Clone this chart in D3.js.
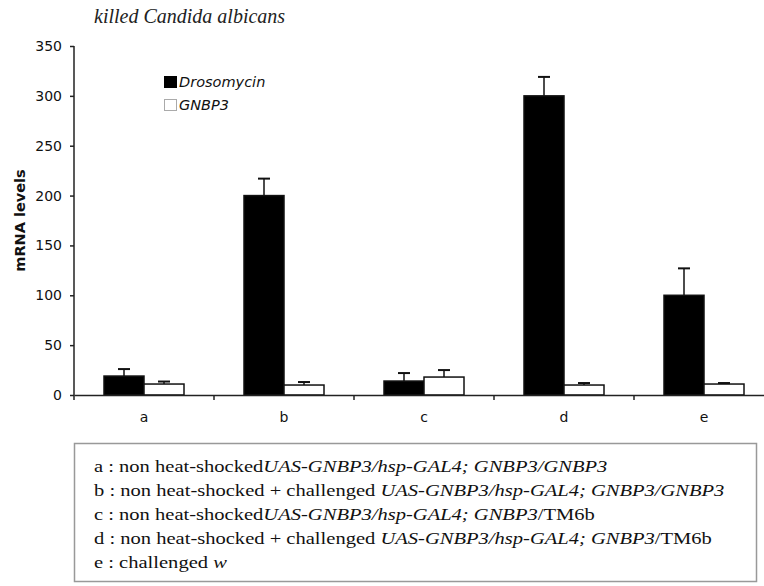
<!DOCTYPE html>
<html>
<head>
<meta charset="utf-8">
<script src="https://cdn.jsdelivr.net/npm/d3@7"></script>
<style>
  body { margin: 0; background: #fff; }
  svg { display: block; }
</style>
</head>
<body>
<div id="chart"></div>
<script>
const categories = ['a', 'b', 'c', 'd', 'e'];
const seriesNames = ['Drosomycin', 'GNBP3'];
const drosomycin = [19, 200, 14, 300, 100];
const drosomycinErr = [7, 17, 8, 19, 27];
const gnbp3 = [11, 10, 18, 10, 11];
const gnbp3Err = [2.5, 3, 7, 2, 1];
const yTicks = [0, 50, 100, 150, 200, 250, 300, 350];
const noteLines = [
    [['a : non heat-shocked', false], ['UAS-GNBP3/hsp-GAL4; GNBP3/GNBP3', true]],
    [['b : non heat-shocked + challenged ', false], ['UAS-GNBP3/hsp-GAL4; GNBP3/GNBP3', true]],
    [['c : non heat-shocked', false], ['UAS-GNBP3/hsp-GAL4; GNBP3', true], ['/TM6b', false]],
    [['d : non heat-shocked + challenged ', false], ['UAS-GNBP3/hsp-GAL4; GNBP3', true], ['/TM6b', false]],
    [['e : challenged ', false], ['w', true]]
];

const width = 764, height = 586;
const margin = {top: 46, left: 74, bottom: 191};
const plotBottom = height - margin.bottom; // 395

const svg = d3.select('#chart').append('svg')
    .attr('width', width).attr('height', height);

const x0 = d3.scaleBand()
    .domain(categories)
    .range([margin.left, margin.left + 700])
    .paddingInner(60 / 140)
    .paddingOuter(30 / 140);

const x1 = d3.scaleBand()
    .domain(seriesNames)
    .range([0, x0.bandwidth()]);

const y = d3.scaleLinear()
    .domain([0, 350])
    .range([plotBottom, margin.top]);

// title
svg.append('text')
    .attr('x', 94).attr('y', 23)
    .attr('font-family', 'Liberation Serif')
    .attr('font-style', 'italic')
    .attr('font-size', 20)
    .attr('fill', '#222')
    .text('killed Candida albicans');

// y axis
const yAxis = svg.append('g')
    .attr('transform', 'translate(' + margin.left + ',0)')
    .call(d3.axisLeft(y).tickValues(yTicks).tickSize(4).tickPadding(8));
yAxis.selectAll('text')
    .attr('font-family', 'DejaVu Sans')
    .attr('font-size', 14)
    .attr('fill', '#111');
yAxis.selectAll('line, path').attr('stroke', '#222').attr('stroke-width', 1.5);
yAxis.select('.domain').attr('d', 'M0,' + margin.top + 'V' + plotBottom);

svg.append('text')
    .attr('transform', 'translate(25,' + y(175) + ') rotate(-90)')
    .attr('text-anchor', 'middle')
    .attr('font-family', 'DejaVu Sans')
    .attr('font-weight', 'bold')
    .attr('font-size', 14.5)
    .attr('fill', '#111')
    .text('mRNA levels');

// bars
const rows = categories.map((c, i) => ({
    cat: c,
    vals: [
        {name: 'Drosomycin', v: drosomycin[i], err: drosomycinErr[i]},
        {name: 'GNBP3', v: gnbp3[i], err: gnbp3Err[i]}
    ]
}));

const groups = svg.selectAll('g.grp')
    .data(rows).enter().append('g')
    .attr('class', 'grp')
    .attr('transform', d => 'translate(' + x0(d.cat) + ',0)');

// error bars (only upper half visible)
groups.selectAll('g.err')
    .data(d => d.vals).enter().append('g')
    .attr('class', 'err')
    .each(function(d) {
        const cx = x1(d.name) + x1.bandwidth() / 2;
        const g = d3.select(this);
        g.append('line')
            .attr('x1', cx).attr('x2', cx)
            .attr('y1', y(d.v)).attr('y2', y(d.v + d.err))
            .attr('stroke', '#111').attr('stroke-width', 1.5);
        g.append('line')
            .attr('x1', cx - 6).attr('x2', cx + 6)
            .attr('y1', y(d.v + d.err)).attr('y2', y(d.v + d.err))
            .attr('stroke', '#111').attr('stroke-width', 2);
    });

groups.selectAll('rect')
    .data(d => d.vals).enter().append('rect')
    .attr('x', d => x1(d.name))
    .attr('y', d => y(d.v))
    .attr('width', x1.bandwidth())
    .attr('height', d => plotBottom - y(d.v))
    .attr('fill', d => d.name === 'Drosomycin' ? '#000' : '#fff')
    .attr('stroke', '#111')
    .attr('stroke-width', 1.5);

// x axis
const xAxis = svg.append('g')
    .attr('transform', 'translate(0,' + plotBottom + ')')
    .call(d3.axisBottom(x0).tickSize(0).tickPadding(17));
xAxis.select('.domain').attr('stroke', '#222').attr('stroke-width', 1.5);
xAxis.selectAll('text')
    .attr('font-family', 'DejaVu Sans')
    .attr('font-size', 14)
    .attr('fill', '#111');

const bounds = d3.range(categories.length + 1).map(i => margin.left + i * x0.step());
svg.append('g').selectAll('line')
    .data(bounds).enter().append('line')
    .attr('x1', d => d).attr('x2', d => d)
    .attr('y1', plotBottom).attr('y2', plotBottom + 5)
    .attr('stroke', '#222').attr('stroke-width', 1.5);

// legend
const legend = svg.append('g').attr('transform', 'translate(164,76)');
seriesNames.forEach((name, i) => {
    legend.append('rect')
        .attr('x', 0.5).attr('y', i * 23 + 0.5)
        .attr('width', 12).attr('height', 11)
        .attr('fill', i === 0 ? '#000' : '#fff')
        .attr('stroke', i === 0 ? '#000' : '#aaa')
        .attr('stroke-width', 1);
    legend.append('text')
        .attr('x', 15).attr('y', i * 23 + 11)
        .attr('font-family', 'DejaVu Sans')
        .attr('font-style', 'italic')
        .attr('font-size', 14.5)
        .attr('fill', '#111')
        .text(name);
});

// notes box
svg.append('rect')
    .attr('x', 74.5).attr('y', 443.5)
    .attr('width', 682).attr('height', 138)
    .attr('fill', '#fff')
    .attr('stroke', '#999')
    .attr('stroke-width', 1.5);

const notes = svg.append('g')
    .attr('transform', 'translate(94,0) scale(1.245,1)')
    .attr('font-family', 'Liberation Serif')
    .attr('font-size', 16.5)
    .attr('fill', '#111');
noteLines.forEach((parts, i) => {
    const t = notes.append('text')
        .attr('x', 0).attr('y', 472 + i * 24);
    parts.forEach(p => {
        t.append('tspan')
            .attr('font-style', p[1] ? 'italic' : 'normal')
            .text(p[0]);
    });
});
</script>
</body>
</html>
